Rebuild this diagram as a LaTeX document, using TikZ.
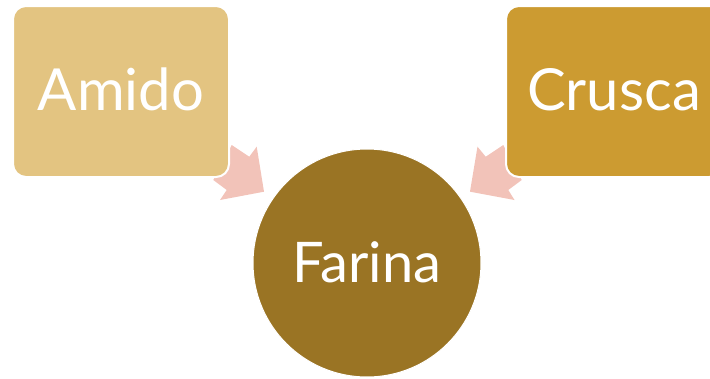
\documentclass[tikz,border=0pt]{standalone}
\usepackage{fontspec}
\setmainfont{Lato}
\definecolor{amidoC}{HTML}{E3C481}
\definecolor{cruscaC}{HTML}{CC9B31}
\definecolor{farinaC}{HTML}{9A7424}
\definecolor{arrowC}{HTML}{F2C3B9}
\tikzset{
  boxnode/.style={rectangle, rounded corners=13pt, draw=white, line width=2pt,
    minimum width=216pt, minimum height=171pt, inner sep=0pt,
    text=white, font=\fontsize{58}{58}\selectfont, text height=37pt, text depth=0pt},
  circnode/.style={circle, draw=white, line width=1pt, fill=farinaC,
    minimum size=228pt, inner sep=0pt,
    text=white, font=\fontsize{56}{56}\selectfont, text height=39pt, text depth=0pt},
  blockarrow/.style={fill=arrowC}
}
\begin{document}
\begin{tikzpicture}[x=1pt,y=-1pt]
\useasboundingbox (0,0) rectangle (710,378);
\clip (0,0) rectangle (710,378);
% arrows
\fill[blockarrow] (213.3,180) -- (231.7,145) -- (249.3,156.7) -- (256.7,146.7)
  -- (264,191.7) -- (220,200) -- (226.7,190) -- cycle;
\fill[blockarrow] (521.7,180) -- (503.3,145) -- (485.7,156.7) -- (477.5,146.7)
  -- (470,191.7) -- (514.5,200) -- (508.3,190) -- cycle;
% boxes
\node[boxnode, fill=amidoC] (amido) at (121,91.5) {Amido};
\node[boxnode, fill=cruscaC] (crusca) at (614,91.5) {Crusca};
% circle
\node[circnode] (farina) at (367,263) {Farina};
\end{tikzpicture}
\end{document}
